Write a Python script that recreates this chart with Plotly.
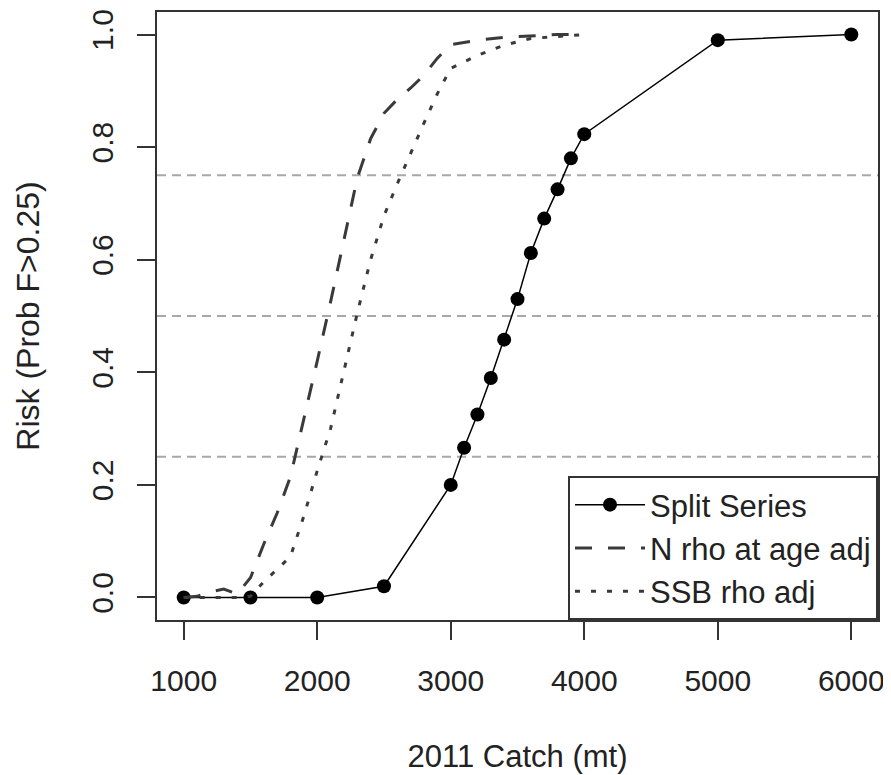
import plotly.graph_objects as go

# ---- data ----
catch_split = [1000, 1500, 2000, 2500, 3000, 3100, 3200, 3300, 3400, 3500,
               3600, 3700, 3800, 3900, 4000, 5000, 6000]
risk_split = [0.0, 0.0, 0.0, 0.02, 0.2, 0.266, 0.325, 0.39, 0.458, 0.53,
              0.612, 0.673, 0.725, 0.78, 0.823, 0.99, 1.0]

catch_rho = [1000, 1100, 1200, 1300, 1400, 1500, 1600, 1700, 1800, 1900,
             2000, 2100, 2200, 2300, 2400, 2500, 2600, 2700, 2800, 2900,
             3000, 3200, 3400, 3600, 3800, 4000]
risk_n_rho = [0.0, 0.002, 0.01, 0.015, 0.006, 0.035, 0.095, 0.15, 0.215, 0.315,
              0.42, 0.525, 0.635, 0.745, 0.815, 0.86, 0.885, 0.905, 0.928, 0.958,
              0.982, 0.99, 0.995, 0.998, 1.0, 1.0]
risk_ssb_rho = [0.0, 0.0, 0.0, 0.0, 0.0, 0.002, 0.028, 0.05, 0.073, 0.145,
                0.225, 0.30, 0.405, 0.505, 0.60, 0.678, 0.735, 0.79, 0.843, 0.895,
                0.94, 0.963, 0.981, 0.993, 0.997, 1.0]

ref_levels = [0.25, 0.5, 0.75]
x_ticks = [1000, 2000, 3000, 4000, 5000, 6000]
y_ticks = [0.0, 0.2, 0.4, 0.6, 0.8, 1.0]

FONT = "Liberation Sans, Arial, sans-serif"
AX = "#333333"
TXT = "#222222"

fig = go.Figure()

fig.add_trace(go.Scatter(
    x=catch_split, y=risk_split, mode="lines+markers", name="Split Series",
    line=dict(color="black", width=1.5),
    marker=dict(color="black", size=14, symbol="circle"),
))
fig.add_trace(go.Scatter(
    x=catch_rho, y=risk_n_rho, mode="lines", name="N rho at age adj",
    line=dict(color="#3a3a3a", width=3, dash="17px,16px"),
))
fig.add_trace(go.Scatter(
    x=catch_rho, y=risk_ssb_rho, mode="lines", name="SSB rho adj",
    line=dict(color="#3a3a3a", width=3, dash="5px,11px"),
))

for lv in ref_levels:
    fig.add_hline(y=lv, line=dict(color="#a8a8a8", width=2, dash="9px,6px"),
                  layer="below")

# page body adds an 8px offset, so the figure is sized to fit the window
fig.update_layout(
    width=883, height=767,
    margin=dict(l=149, r=13, t=4, b=155),
    paper_bgcolor="white", plot_bgcolor="white",
    font=dict(family=FONT, color=TXT, size=30),
    showlegend=True,
    legend=dict(
        x=1, y=0, xanchor="right", yanchor="bottom",
        bgcolor="white", bordercolor=AX, borderwidth=2,
        font=dict(size=31, family=FONT, color=TXT),
        itemwidth=70, tracegroupgap=0,
    ),
)

fig.update_xaxes(
    range=[800, 6200], tickvals=x_ticks, ticks="outside", ticklen=18,
    tickwidth=2, tickcolor=AX, showline=True, linewidth=2, linecolor=AX,
    mirror=True, showgrid=False, zeroline=False, automargin=False,
    tickfont=dict(size=30, family=FONT, color=TXT),
    ticklabelstandoff=15,
    title=dict(text="2011 Catch (mt)", font=dict(size=31, family=FONT, color=TXT),
               standoff=49),
)
fig.update_yaxes(
    range=[-0.04, 1.04], tickvals=y_ticks, tickformat=".1f", ticks="outside",
    ticklen=18, tickwidth=2, tickcolor=AX, showline=True, linewidth=2,
    linecolor=AX, mirror=True, showgrid=False, zeroline=False, automargin=False,
    tickangle=-90,
    tickfont=dict(size=30, family=FONT, color=TXT),
    ticklabelstandoff=12,
    title=dict(text="Risk (Prob F>0.25)", font=dict(size=32, family=FONT, color=TXT),
               standoff=37),
)

fig.write_html("out.html")
